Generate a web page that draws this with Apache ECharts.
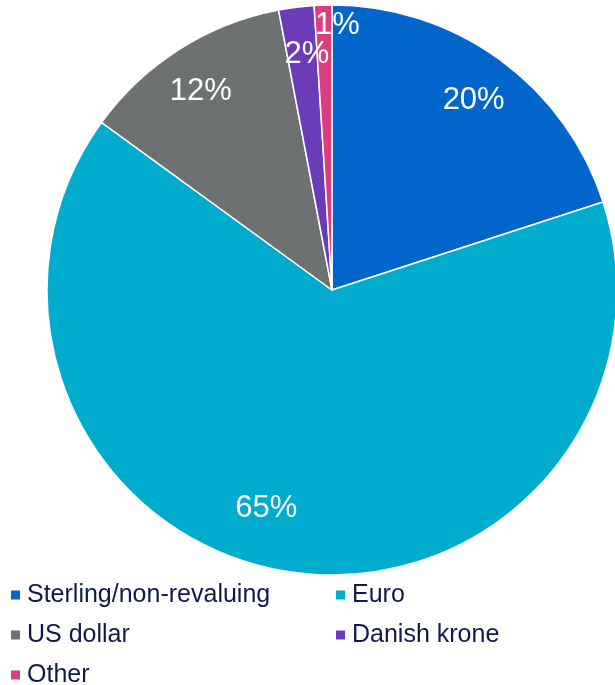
<!DOCTYPE html>
<html>
<head>
<meta charset="utf-8">
<script src="https://cdn.jsdelivr.net/npm/echarts@6/dist/echarts.min.js"></script>
<style>
html,body{margin:0;padding:0;background:#fff;}
#chart{width:615px;height:685px;}
</style>
</head>
<body>
<div id="chart"></div>
<script>
const categories = ['Sterling/non-revaluing', 'Euro', 'US dollar', 'Danish krone', 'Other'];
const values = [20, 65, 12, 2, 1];
const colors = ['#0066CC', '#00ACCD', '#6D7172', '#6C3CB8', '#DC3C80'];
const labelOffsets = [[0, 5], [-28, -20], [-2, 5], [5, 4], [13, -24]];

const chart = echarts.init(document.getElementById('chart'));
const font = '"Liberation Sans", Arial, sans-serif';

chart.setOption({
  animation: false,
  color: colors,
  legend: {
    data: categories,
    orient: 'horizontal', left: 9, top: 576, width: 700, padding: 0,
    icon: 'rect', itemWidth: 11, itemHeight: 11, itemGap: 2,
    selectedMode: false,
    textStyle: {
      fontFamily: font, fontSize: 25, color: '#101a48',
      lineHeight: 38, width: 305, overflow: 'none', padding: [0, 0, 0, 1]
    }
  },
  series: [
    {
      type: 'pie',
      center: [332, 290],
      radius: [0, 285],
      startAngle: 90,
      clockwise: true,
      silent: true,
      label: { show: false },
      labelLine: { show: false },
      itemStyle: { borderColor: '#ffffff', borderWidth: 1.5 },
      data: categories.map((n, i) => ({ name: n, value: values[i] }))
    },
    {
      type: 'pie',
      center: [332, 290],
      radius: [200, 276],
      startAngle: 90,
      clockwise: true,
      silent: true,
      avoidLabelOverlap: false,
      labelLayout: { hideOverlap: false },
      legendHoverLink: false,
      itemStyle: { color: 'rgba(0,0,0,0)' },
      labelLine: { show: false },
      label: {
        show: true, position: 'inside',
        formatter: p => p.value + '%',
        color: '#ffffff', fontFamily: font, fontSize: 31
      },
      data: categories.map((n, i) => ({
        name: n + ' ', value: values[i],
        label: { offset: labelOffsets[i] }
      }))
    }
  ]
});
</script>
</body>
</html>
